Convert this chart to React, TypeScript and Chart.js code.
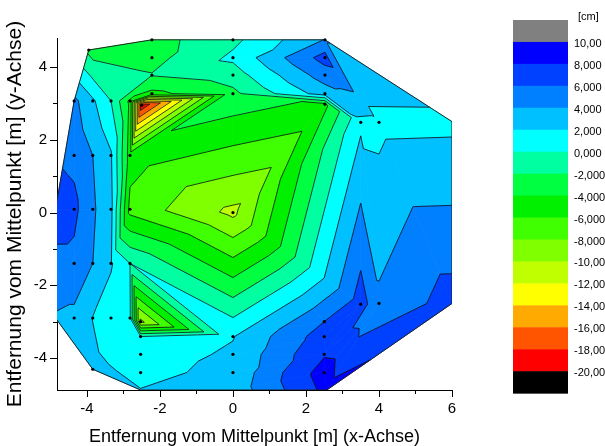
import React, { useEffect, useRef } from "react";
import { Chart, registerables } from "chart.js";
Chart.register(...registerables);

// measured points (drawn as dots)
const pointX = [-3.95, -2.22, 0, 2.52, -2.22, -2.22, -2.22, 0, 0, 0, 2.52, 2.52, 2.52, 2.52, 3.5, 4.0, -2.5, 0,
  -4.35, -3.84, -3.34, -2.82,
  -4.35, -3.84, -3.34, -2.82,
  -4.35, -3.84, -3.34, -2.82,
  -4.35, -3.84, -3.34, -2.82,
  -4.35, -3.84, -3.34, -2.82,
  -2.53, -2.53, -2.53, -2.53, -3.84, 0, 0, 0, 2.5, 2.5, 2.5, 2.5, 3.5, 4.0];
const pointY = [4.47, 4.75, 4.75, 4.75, 4.26, 3.78, 3.27, 4.26, 3.78, 3.27, 4.26, 3.78, 3.27, 2.98, 2.48, 2.48, 2.95, 0,
  3.07, 3.07, 3.07, 3.07,
  1.57, 1.57, 1.57, 1.57,
  0.09, 0.09, 0.09, 0.09,
  -1.4, -1.4, -1.4, -1.4,
  -2.9, -2.9, -2.9, -2.9,
  -3.0, -3.41, -3.9, -4.4, -4.31, -3.41, -3.9, -4.4, -3.0, -3.41, -3.9, -4.4, -2.52, -2.5];
const pointZ = [-2.5, -2.8, -0.5, 4.1, -2.7, -1.9, -4.5, 0.4, -1.0, -2.5, 6.8, 5, 3, -4.5, 1.6, 1.5, -19.5, -10.5,
  4.5, 2.3, 0.0, -4.5,
  5.5, 4.0, 2.2, -5,
  6.5, 4.3, 2.5, -6.7,
  5.5, 4.0, 2.2, 0,
  3.5, 1.95, 1.0, 0.3,
  -10.5, 0, 1.0, 1.5, 2.5, 1.9, 2.3, 2.5, 6, 7, 7.8, 8.9, 7.0, 4.35];

// boundary points of the measured field (not marked)
const edgeX = [-4.86, -4.86, -4.86, -2.53, 0, 2.57, 6, 6];
const edgeY = [0.09, -1.4, -2.9, -4.88, -4.88, -4.88, -2.5, 2.5];
const edgeZ = [6.9, 5.5, 3.8, 2.05, 2.8, 8.6, 6.87, 1.55];

const levels = [-20, -18, -16, -14, -12, -10, -8, -6, -4, -2, 0, 2, 4, 6, 8, 10];
const bandColors = ["#000000", "#ff0000", "#ff5500", "#ffaa00", "#ffff00", "#c0ff00", "#80ff00", "#40ff00",
  "#00f000", "#00ff40", "#00ffa0", "#00ffff", "#00c0ff", "#0080ff", "#0040ff", "#0000ff", "#808080"];
const legendLabels = ["10,00", "8,000", "6,000", "4,000", "2,000", "0,000", "-2,000", "-4,000", "-6,000",
  "-8,000", "-10,00", "-12,00", "-14,00", "-16,00", "-18,00", "-20,00"];
const xTickValues = [-4, -3, -2, -1, 0, 1, 2, 3, 4, 5, 6];
const yTickValues = [-4, -3, -2, -1, 0, 1, 2, 3, 4];

const FONT = "'Liberation Sans', Arial, sans-serif";

const allX = pointX.concat(edgeX);
const allY = pointY.concat(edgeY);
const allZ = pointZ.concat(edgeZ);

function delaunay(xs: number[], ys: number[]): number[][] {
  const n = xs.length;
  const X = xs.slice();
  const Y = ys.slice();
  let minX = Infinity, minY = Infinity, maxX = -Infinity, maxY = -Infinity;
  for (let i = 0; i < n; i++) {
    minX = Math.min(minX, X[i]); maxX = Math.max(maxX, X[i]);
    minY = Math.min(minY, Y[i]); maxY = Math.max(maxY, Y[i]);
  }
  const dm = Math.max(maxX - minX, maxY - minY) * 20;
  const mx = (minX + maxX) / 2, my = (minY + maxY) / 2;
  X.push(mx - 2 * dm, mx, mx + 2 * dm);
  Y.push(my - dm, my + 2 * dm, my - dm);
  const mk = (a: number, b: number, c: number) => {
    const ax = X[a], ay = Y[a], bx = X[b], by = Y[b], cx = X[c], cy = Y[c];
    const d = 2 * (ax * (by - cy) + bx * (cy - ay) + cx * (ay - by));
    if (Math.abs(d) < 1e-12) return { a, b, c, ux: 0, uy: 0, r2: Infinity };
    const A = ax * ax + ay * ay, B = bx * bx + by * by, C = cx * cx + cy * cy;
    const ux = (A * (by - cy) + B * (cy - ay) + C * (ay - by)) / d;
    const uy = (A * (cx - bx) + B * (ax - cx) + C * (bx - ax)) / d;
    return { a, b, c, ux, uy, r2: (ax - ux) ** 2 + (ay - uy) ** 2 };
  };
  let tris = [mk(n, n + 1, n + 2)];
  for (let i = 0; i < n; i++) {
    const bad: any[] = [], good: any[] = [];
    for (const t of tris) {
      const d = (X[i] - t.ux) ** 2 + (Y[i] - t.uy) ** 2;
      if (d < t.r2 - 1e-9) bad.push(t); else good.push(t);
    }
    const edges = new Map<string, number[]>();
    const cnt = new Map<string, number>();
    for (const t of bad) {
      for (const [p, q] of [[t.a, t.b], [t.b, t.c], [t.c, t.a]]) {
        const k = Math.min(p, q) + "_" + Math.max(p, q);
        cnt.set(k, (cnt.get(k) || 0) + 1);
        edges.set(k, [p, q]);
      }
    }
    for (const [k, e] of edges) {
      if (cnt.get(k) === 1) good.push(mk(e[0], e[1], i));
    }
    tris = good;
  }
  return tris.filter((t) => t.a < n && t.b < n && t.c < n).map((t) => [t.a, t.b, t.c]);
}

const triangles = delaunay(allX, allY);

function clipPoly(poly: number[][], L: number, above: boolean): number[][] {
  const out: number[][] = [];
  const inside = (p: number[]) => (above ? p[2] >= L : p[2] < L);
  for (let i = 0; i < poly.length; i++) {
    const p = poly[i], q = poly[(i + 1) % poly.length];
    const ip = inside(p), iq = inside(q);
    if (ip) out.push(p);
    if (ip !== iq) {
      const t = (L - p[2]) / (q[2] - p[2]);
      out.push([p[0] + t * (q[0] - p[0]), p[1] + t * (q[1] - p[1]), L]);
    }
  }
  return out;
}

const contourPlugin = {
  id: "contour",
  beforeDatasetsDraw(chart: any) {
    const { ctx, chartArea: ca, scales } = chart;
    const xs = scales.x, ys = scales.y;
    const px = (v: number) => xs.getPixelForValue(v);
    const py = (v: number) => ys.getPixelForValue(v);
    ctx.save();
    ctx.beginPath();
    ctx.rect(ca.left, ca.top, ca.right - ca.left, ca.bottom - ca.top);
    ctx.clip();
    for (const t of triangles) {
      const tri = t.map((i) => [allX[i], allY[i], allZ[i]]);
      for (let b = 0; b < bandColors.length; b++) {
        let poly = tri;
        if (b > 0) poly = clipPoly(poly, levels[b - 1], true);
        if (b < levels.length && poly.length) poly = clipPoly(poly, levels[b], false);
        if (poly.length < 3) continue;
        ctx.beginPath();
        poly.forEach((p, k) => (k ? ctx.lineTo(px(p[0]), py(p[1])) : ctx.moveTo(px(p[0]), py(p[1]))));
        ctx.closePath();
        ctx.fillStyle = bandColors[b];
        ctx.strokeStyle = bandColors[b];
        ctx.lineWidth = 0.8;
        ctx.fill();
        ctx.stroke();
      }
    }
    ctx.strokeStyle = "#111";
    ctx.lineWidth = 0.8;
    for (const t of triangles) {
      const tri = t.map((i) => [allX[i], allY[i], allZ[i]]);
      for (const L of levels) {
        const seg: number[][] = [];
        for (let k = 0; k < 3; k++) {
          const p = tri[k], q = tri[(k + 1) % 3];
          if ((p[2] < L) !== (q[2] < L)) {
            const s = (L - p[2]) / (q[2] - p[2]);
            seg.push([p[0] + s * (q[0] - p[0]), p[1] + s * (q[1] - p[1])]);
          }
        }
        if (seg.length === 2) {
          ctx.beginPath();
          ctx.moveTo(px(seg[0][0]), py(seg[0][1]));
          ctx.lineTo(px(seg[1][0]), py(seg[1][1]));
          ctx.stroke();
        }
      }
    }
    // outline of the measured field
    const ec = new Map<string, number[]>();
    const en = new Map<string, number>();
    for (const t of triangles) {
      for (const [p, q] of [[t[0], t[1]], [t[1], t[2]], [t[2], t[0]]]) {
        const k = Math.min(p, q) + "_" + Math.max(p, q);
        en.set(k, (en.get(k) || 0) + 1);
        ec.set(k, [p, q]);
      }
    }
    ctx.strokeStyle = "#222";
    ctx.lineWidth = 1;
    for (const [k, e] of ec) {
      if (en.get(k) !== 1) continue;
      ctx.beginPath();
      ctx.moveTo(px(allX[e[0]]), py(allY[e[0]]));
      ctx.lineTo(px(allX[e[1]]), py(allY[e[1]]));
      ctx.stroke();
    }
    ctx.restore();
  },
};

const ticksPlugin = {
  id: "ticksAndLegend",
  afterDraw(chart: any) {
    const { ctx, chartArea: ca, scales } = chart;
    ctx.save();
    ctx.strokeStyle = "#000";
    ctx.lineWidth = 1;
    for (const v of xTickValues) {
      const x = Math.round(scales.x.getPixelForValue(v)) + 0.5;
      const len = v % 2 === 0 ? 7 : 4;
      ctx.beginPath();
      ctx.moveTo(x, ca.bottom);
      ctx.lineTo(x, ca.bottom + len);
      ctx.stroke();
    }
    for (const v of yTickValues) {
      const y = Math.round(scales.y.getPixelForValue(v)) + 0.5;
      const len = v % 2 === 0 ? 7 : 4;
      ctx.beginPath();
      ctx.moveTo(ca.left, y);
      ctx.lineTo(ca.left - len, y);
      ctx.stroke();
    }
    // colour scale
    const lx = 513, lw = 55, top = 20, step = 21.95;
    const boxes = bandColors.slice().reverse();
    boxes.forEach((c, i) => {
      ctx.fillStyle = c;
      ctx.fillRect(lx, top + i * step, lw, step + 0.5);
    });
    ctx.fillStyle = "#000";
    ctx.font = "11px " + FONT;
    ctx.textBaseline = "middle";
    ctx.textAlign = "left";
    ctx.fillText("[cm]", 578, 17);
    legendLabels.forEach((s, i) => {
      ctx.fillText(s, 574, top + (i + 1) * step + 2);
    });
    ctx.restore();
  },
};

export default function App() {
  const ref = useRef<HTMLCanvasElement>(null);
  useEffect(() => {
    if (!ref.current) return;
    Chart.defaults.font.family = FONT;
    Chart.defaults.color = "#000";
    const chart = new Chart(ref.current, {
      type: "scatter",
      data: {
        datasets: [
          {
            data: pointX.map((x, i) => ({ x, y: pointY[i] })),
            pointRadius: 1.6,
            pointBackgroundColor: "#000",
            pointBorderWidth: 0,
            showLine: false,
          },
        ],
      },
      options: {
        responsive: false,
        animation: false,
        devicePixelRatio: 1,
        events: [],
        layout: { padding: { top: 38, right: 153, left: 0, bottom: 0 } },
        plugins: { legend: { display: false }, tooltip: { enabled: false } },
        scales: {
          x: {
            type: "linear",
            min: -4.82,
            max: 6,
            afterBuildTicks: (s: any) => { s.ticks = xTickValues.map((v) => ({ value: v })); },
            afterFit: (s: any) => { s.height = 56; },
            grid: { display: false, drawTicks: true, tickLength: 7 },
            border: { display: true, color: "#000", width: 1 },
            ticks: {
              autoSkip: false,
              maxRotation: 0,
              padding: 3,
              font: { size: 15 },
              callback: (v: any) => (Number(v) % 2 === 0 ? String(v) : ""),
            },
            title: {
              display: true,
              text: "Entfernung vom Mittelpunkt [m] (x-Achse)",
              font: { size: 18, lineHeight: 1 },
              padding: { top: 0, bottom: 0 },
            },
          },
          y: {
            type: "linear",
            min: -4.88,
            max: 4.8,
            afterBuildTicks: (s: any) => { s.ticks = yTickValues.map((v) => ({ value: v })); },
            afterFit: (s: any) => { s.width = 57; },
            grid: { display: false, drawTicks: true, tickLength: 7 },
            border: { display: true, color: "#000", width: 1 },
            ticks: {
              autoSkip: false,
              padding: 3,
              font: { size: 15 },
              callback: (v: any) => (Number(v) % 2 === 0 ? String(v) : ""),
            },
            title: {
              display: true,
              text: "Entfernung vom Mittelpunkt [m] (y-Achse)",
              font: { size: 21, lineHeight: 1 },
              padding: { top: 5, bottom: 0 },
            },
          },
        },
      },
      plugins: [contourPlugin, ticksPlugin],
    } as any);
    return () => chart.destroy();
  }, []);
  return (
    <div style={{ position: "fixed", left: 0, top: 0, width: 605, height: 446, background: "#fff" }}>
      <canvas ref={ref} width={605} height={446} />
    </div>
  );
}
